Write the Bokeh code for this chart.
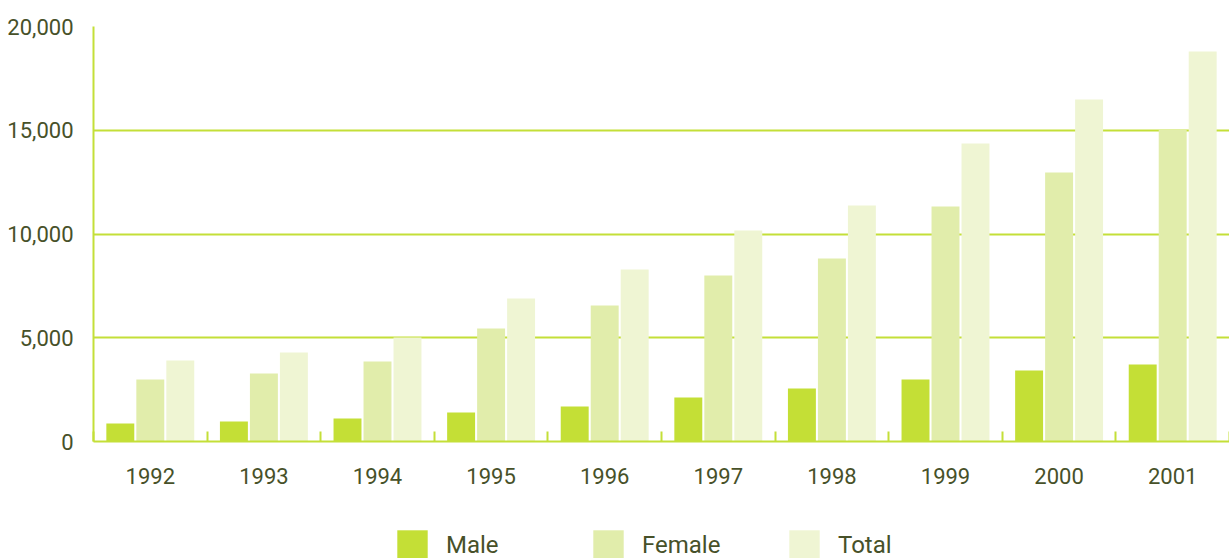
from bokeh.plotting import figure
from bokeh.layouts import column
from bokeh.models import (ColumnDataSource, FixedTicker, NumeralTickFormatter,
                          BasicTickFormatter, Legend, LegendItem, Range1d)
from bokeh.embed import file_html
from bokeh.resources import INLINE

years = [1992, 1993, 1994, 1995, 1996, 1997, 1998, 1999, 2000, 2001]
male = [870, 960, 1110, 1400, 1690, 2120, 2550, 2990, 3420, 3710]
female = [2990, 3280, 3860, 5450, 6550, 8000, 8820, 11330, 12960, 15020]
total = [3900, 4290, 5010, 6890, 8290, 10170, 11370, 14360, 16480, 18800]
series_names = ["Male", "Female", "Total"]
y_ticks = [0, 5000, 10000, 15000, 20000]

GREEN = "#c4df38"
C_MALE = "#c4df36"
C_FEMALE = "#e1edab"
C_TOTAL = "#eff5d3"
TEXT = "#475129"
FONT = "Roboto"

OFF = 0.264
BW = 0.246

src = ColumnDataSource(dict(
    year=years,
    xm=[y - OFF for y in years],
    xf=list(years),
    xt=[y + OFF for y in years],
    male=male, female=female, total=total,
))

p = figure(width=1229, height=500, output_backend="svg", toolbar_location=None,
           x_range=Range1d(years[0] - 0.5, years[-1] + 0.5),
           y_range=Range1d(0, 20000),
           min_border_left=93, min_border_right=0, min_border_top=26,
           min_border_bottom=59)
p.outline_line_color = None
p.background_fill_color = "white"
p.border_fill_color = "white"

rm = p.vbar(x="xm", top="male", width=BW, source=src, fill_color=C_MALE, line_color=None)
rf = p.vbar(x="xf", top="female", width=BW, source=src, fill_color=C_FEMALE, line_color=None)
rt = p.vbar(x="xt", top="total", width=BW, source=src, fill_color=C_TOTAL, line_color=None)

# x axis
p.xaxis.ticker = FixedTicker(ticks=years, minor_ticks=[y - 0.5 for y in years] + [years[-1] + 0.5])
p.xaxis.formatter = BasicTickFormatter(use_scientific=False)
p.xaxis.major_tick_line_color = None
p.xaxis.minor_tick_in = 10
p.xaxis.minor_tick_out = 0
p.xaxis.minor_tick_line_color = GREEN
p.xaxis.minor_tick_line_width = 2
p.xaxis.axis_line_color = GREEN
p.xaxis.axis_line_width = 2
p.xaxis.major_label_text_font = FONT
p.xaxis.major_label_text_font_size = "22px"
p.xaxis.major_label_text_color = TEXT
p.xaxis.major_label_standoff = 20
p.xgrid.grid_line_color = None

# y axis
p.yaxis.ticker = FixedTicker(ticks=y_ticks)
p.yaxis.formatter = NumeralTickFormatter(format="0,0")
p.yaxis.major_tick_line_color = None
p.yaxis.minor_tick_line_color = None
p.yaxis.axis_line_color = GREEN
p.yaxis.axis_line_width = 2
p.yaxis.major_label_text_font = FONT
p.yaxis.major_label_text_font_size = "22px"
p.yaxis.major_label_text_color = TEXT
p.yaxis.major_label_standoff = 14
p.ygrid.ticker = FixedTicker(ticks=y_ticks)
p.ygrid.grid_line_color = GREEN
p.ygrid.grid_line_width = 2

# legend strip below the chart (hidden proxy renderers carry the legend glyphs)
p2 = figure(width=1229, height=58, output_backend="svg", toolbar_location=None,
            x_range=Range1d(years[0] - 0.5, years[-1] + 0.5), y_range=Range1d(0, 20000),
            x_axis_location=None, y_axis_location=None,
            min_border_left=0, min_border_right=0, min_border_top=0, min_border_bottom=0)
p2.grid.visible = False
p2.outline_line_color = None
proxies = []
for col, c in (("male", C_MALE), ("female", C_FEMALE), ("total", C_TOTAL)):
    r = p2.vbar(x="year", top=col, width=BW, source=src, fill_color=c, line_color=None)
    r.visible = False
    proxies.append(r)

legend = Legend(items=[LegendItem(label=n, renderers=[r]) for n, r in zip(series_names, proxies)],
                orientation="horizontal", location=(300, -6))
legend.glyph_width = 38
legend.glyph_height = 38
legend.label_standoff = 15
legend.label_width = 143
legend.spacing = 0
legend.padding = 0
legend.margin = 0
legend.border_line_color = None
legend.background_fill_alpha = 0
legend.inactive_fill_alpha = 0
legend.label_text_font = FONT
legend.label_text_font_size = "24px"
legend.label_text_color = TEXT
p2.add_layout(legend, "center")

open("out.html", "w").write(file_html(column(p, p2, spacing=0), INLINE))
